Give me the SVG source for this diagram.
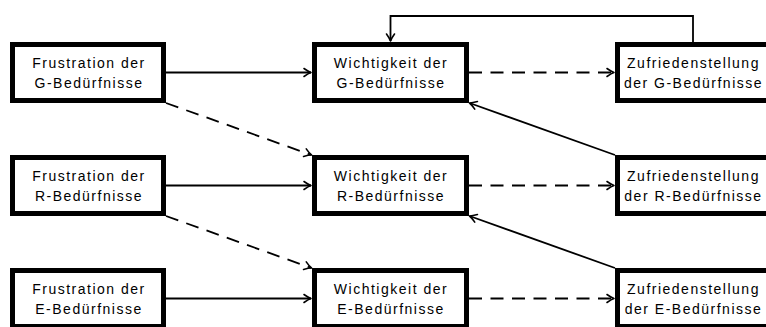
<svg xmlns="http://www.w3.org/2000/svg" width="766" height="327" viewBox="0 0 766 327">
  <style>
    .box { fill: #fff; stroke: #000; stroke-width: 5; }
    .lbl { font-family: "Liberation Sans", Arial, sans-serif; font-size: 14px; letter-spacing: 1.5px; text-anchor: middle; fill: #000; }
    .solid { fill: none; stroke: #000; stroke-width: 1.8; marker-end: url(#tip); }
    .dash { fill: none; stroke: #000; stroke-width: 1.8; stroke-dasharray: 13 8.5; marker-end: url(#tip); }
  </style>
  <defs>
    <marker id="tip" markerUnits="userSpaceOnUse" markerWidth="14" markerHeight="14" viewBox="-10 -7 14 14" refX="0" refY="0" orient="auto" overflow="visible">
      <path d="M -7 -4 Q -2.5 -0.8 0 0 Q -2.5 0.8 -7 4" fill="none" stroke="#000" stroke-width="1.6" stroke-linecap="round" stroke-linejoin="round"/>
    </marker>
  </defs>

  <g id="connectors">
    <!-- row G -->
    <path class="solid" d="M 166 72.5 L 311 72.5"/>
    <path class="dash" d="M 469 72.5 L 614 72.5"/>
    <!-- feedback loop over the top -->
    <path class="solid" d="M 693 42 L 693 16 L 390.5 16 L 390.5 41"/>
    <!-- row R -->
    <path class="solid" d="M 166 185.5 L 311 185.5"/>
    <path class="dash" d="M 469 185.5 L 614 185.5"/>
    <!-- row E -->
    <path class="solid" d="M 166 298.5 L 311 298.5"/>
    <path class="dash" d="M 469 298.5 L 614 298.5"/>
    <!-- diagonals between rows -->
    <path class="dash" d="M 166 103 L 311.5 155"/>
    <path class="dash" d="M 166 216 L 311.5 268"/>
    <path class="solid" d="M 615 155 L 469.5 103"/>
    <path class="solid" d="M 615 268 L 469.5 216"/>
  </g>

  <g id="frustration-g">
    <rect class="box" x="12.5" y="44.5" width="151" height="56"/>
    <text class="lbl" x="89" y="68">Frustration der</text>
    <text class="lbl" x="89" y="88">G-Bedürfnisse</text>
  </g>
  <g id="wichtigkeit-g">
    <rect class="box" x="314.5" y="44.5" width="152" height="56"/>
    <text class="lbl" x="391" y="68">Wichtigkeit der</text>
    <text class="lbl" x="391" y="88">G-Bedürfnisse</text>
  </g>
  <g id="zufriedenstellung-g">
    <rect class="box" x="617.5" y="44.5" width="151" height="56"/>
    <text class="lbl" x="693.5" y="68">Zufriedenstellung</text>
    <text class="lbl" x="693.5" y="88">der G-Bedürfnisse</text>
  </g>

  <g id="frustration-r">
    <rect class="box" x="12.5" y="157.5" width="151" height="56"/>
    <text class="lbl" x="89" y="181">Frustration der</text>
    <text class="lbl" x="89" y="201">R-Bedürfnisse</text>
  </g>
  <g id="wichtigkeit-r">
    <rect class="box" x="314.5" y="157.5" width="152" height="56"/>
    <text class="lbl" x="391" y="181">Wichtigkeit der</text>
    <text class="lbl" x="391" y="201">R-Bedürfnisse</text>
  </g>
  <g id="zufriedenstellung-r">
    <rect class="box" x="617.5" y="157.5" width="151" height="56"/>
    <text class="lbl" x="693.5" y="181">Zufriedenstellung</text>
    <text class="lbl" x="693.5" y="201">der R-Bedürfnisse</text>
  </g>

  <g id="frustration-e">
    <rect class="box" x="12.5" y="270.5" width="151" height="56"/>
    <text class="lbl" x="89" y="294">Frustration der</text>
    <text class="lbl" x="89" y="314">E-Bedürfnisse</text>
  </g>
  <g id="wichtigkeit-e">
    <rect class="box" x="314.5" y="270.5" width="152" height="56"/>
    <text class="lbl" x="391" y="294">Wichtigkeit der</text>
    <text class="lbl" x="391" y="314">E-Bedürfnisse</text>
  </g>
  <g id="zufriedenstellung-e">
    <rect class="box" x="617.5" y="270.5" width="151" height="56"/>
    <text class="lbl" x="693.5" y="294">Zufriedenstellung</text>
    <text class="lbl" x="693.5" y="314">der E-Bedürfnisse</text>
  </g>
</svg>
